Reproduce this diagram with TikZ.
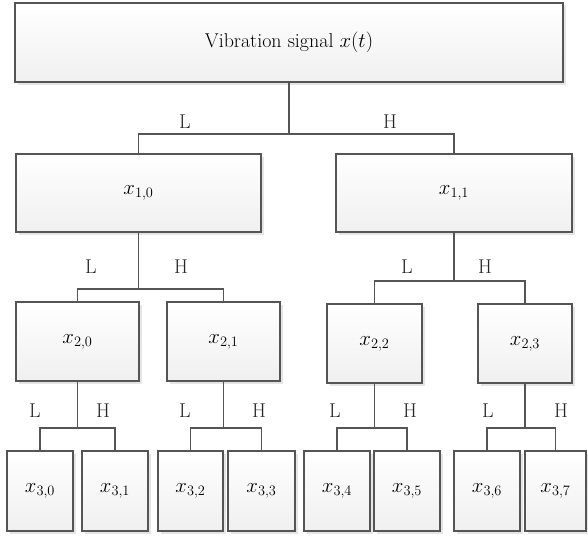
\documentclass[tikz,border=0pt]{standalone}
\usepackage{tikz}
\usetikzlibrary{shadows}
\definecolor{edge}{HTML}{555555}
\begin{document}
\begin{tikzpicture}[x=1pt,y=-1pt,
  blk/.style={draw=edge, line width=1.1pt, top color=white, bottom color=black!6,
    drop shadow={shadow xshift=2.5pt, shadow yshift=-2.5pt, fill=black, opacity=0.10},
    inner sep=0pt, font=\fontsize{20}{24}\selectfont},
  lvl0/.style={blk, minimum height=79pt},
  lvl3/.style={blk, minimum height=80pt},
  wire/.style={draw=edge, line width=1.1pt},
  lab/.style={font=\fontsize{20}{24}\selectfont, text=black!85, inner sep=0pt}]
\useasboundingbox (0,0) rectangle (588,535);

% level 0
\node[lvl0, minimum width=548pt] (top) at (289,42.5) {Vibration signal $x(t)$};

% level 1
\node[lvl0, minimum width=245pt, minimum height=78pt] (n10) at (138.5,193) {$x_{1,0}$};
\node[lvl0, minimum width=236pt, minimum height=78pt] (n11) at (454,193) {$x_{1,1}$};

% level 2
\node[lvl0, minimum width=123pt] (n20) at (77.5,341.5) {$x_{2,0}$};
\node[lvl0, minimum width=113pt] (n21) at (223.5,341.5) {$x_{2,1}$};
\node[lvl0, minimum width=95pt] (n22) at (374.5,343.5) {$x_{2,2}$};
\node[lvl0, minimum width=94pt] (n23) at (525,343.5) {$x_{2,3}$};

% level 3
\node[lvl3, minimum width=66pt] (n30) at (40,491) {$x_{3,0}$};
\node[lvl3, minimum width=66pt] (n31) at (115,491) {$x_{3,1}$};
\node[lvl3, minimum width=65pt] (n32) at (190.5,491) {$x_{3,2}$};
\node[lvl3, minimum width=67pt] (n33) at (261.5,491) {$x_{3,3}$};
\node[lvl3, minimum width=66pt] (n34) at (337,491) {$x_{3,4}$};
\node[lvl3, minimum width=66pt] (n35) at (407,491) {$x_{3,5}$};
\node[lvl3, minimum width=66pt] (n36) at (487,491) {$x_{3,6}$};
\node[lvl3, minimum width=61pt] (n37) at (555.5,491) {$x_{3,7}$};

% branch points
\coordinate (j0) at (top.south |- 0,134);
\coordinate (j10) at (n10.south |- 0,289);
\coordinate (j11) at (n11.south |- 0,281);
\coordinate (j20) at (n20.south |- 0,428);
\coordinate (j21) at (n21.south |- 0,428);
\coordinate (j22) at (n22.south |- 0,428);
\coordinate (j23) at (n23.south |- 0,428);

% connectors
\draw[wire] (top.south) -- (j0);
\draw[wire] (n10.north) |- (j0) -| (n11.north);
\draw[wire] (n10.south) -- (j10);
\draw[wire] (n20.north) |- (j10) -| (n21.north);
\draw[wire] (n11.south) -- (j11);
\draw[wire] (n22.north) |- (j11) -| (n23.north);
\draw[wire] (n20.south) -- (j20);
\draw[wire] (n30.north) |- (j20) -| (n31.north);
\draw[wire] (n21.south) -- (j21);
\draw[wire] (n32.north) |- (j21) -| (n33.north);
\draw[wire] (n22.south) -- (j22);
\draw[wire] (n34.north) |- (j22) -| (n35.north);
\draw[wire] (n23.south) -- (j23);
\draw[wire] (n36.north) |- (j23) -| (n37.north);

% band labels
\node[lab] (l0) at (185,122) {L};
\node[lab] (h0) at (390,122) {H};
\node[lab] (l10) at (91,267) {L};
\node[lab] (h10) at (181,267) {H};
\node[lab] (l11) at (407,267) {L};
\node[lab] (h11) at (485,267) {H};
\node[lab] (l20) at (35,411) {L};
\node[lab] (h20) at (103,411) {H};
\node[lab] (l21) at (185,411) {L};
\node[lab] (h21) at (259,411) {H};
\node[lab] (l22) at (335,411) {L};
\node[lab] (h22) at (410,411) {H};
\node[lab] (l23) at (488,411) {L};
\node[lab] (h23) at (561,411) {H};
\end{tikzpicture}
\end{document}
